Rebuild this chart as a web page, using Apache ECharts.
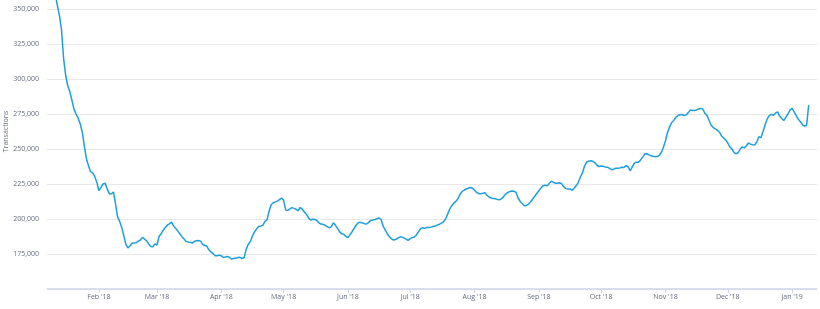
<!DOCTYPE html>
<html>
<head>
<meta charset="utf-8">
<script src="https://cdn.jsdelivr.net/npm/echarts@6/dist/echarts.min.js"></script>
<style>
html,body{margin:0;padding:0;background:#ffffff;overflow:hidden;width:820px;height:309px;}
#chart{width:820px;height:335px;margin-top:-26px;}
</style>
</head>
<body>
<div id="chart"></div>
<script>
// ---- axis range (categories are daily dates) ----
const axisStart = '2018-01-07';
const axisEnd = '2019-01-13';
const dataStart = '2018-01-11';
const monthNames = ['Jan','Feb','Mar','Apr','May','Jun','Jul','Aug','Sep','Oct','Nov','Dec'];
const yMin = 150000, yMax = 375000, yStep = 25000;
const yTitle = 'Transactions';

// ---- daily confirmed transactions (7-day average) ----
const jan18 = [361000,352500,345200,335100,314600,302500,295100,291000,284800,278500,275000,272000,268000,262000,252000,243000,238000,233800,233000,230400,226300];
const feb18 = [220200,222600,225000,225500,221500,218100,217800,219300,211000,201500,198300,194000,188000,181900,179300,180900,182700,182900,183100,184200,185000,186900,185700,184400,182200,180300,180200,182200];
const mar18 = [181400,187500,189500,192000,194000,195700,196500,197800,195000,193300,191500,189500,187400,185800,184000,183500,183300,182800,184000,184500,184600,184200,181800,181100,180700,178000,176500,175300,173800,173800,174200];
const apr18 = [173700,172500,172800,173300,172500,171400,171900,171900,172500,172600,171800,172500,178500,182000,184000,187900,190800,193000,194700,195000,195500,198300,199400,205500,210200,211600,212200,212800,213800,215000];
const may18 = [213500,206500,206200,207200,208100,207600,207000,205900,208200,207000,205000,203400,200800,199300,199800,199600,199000,197300,196400,196200,195500,194600,193700,194500,197300,195500,193300,190800,189400,189100,187500];
const jun18 = [186800,188800,190900,193400,195700,197400,197600,197200,196600,196400,197600,199000,199300,199700,200200,200700,199500,194800,192000,189300,187300,185800,185000,185300,186400,187100,187200,186500,185600,184700];
const jul18 = [186000,186700,187100,188600,191000,193000,193800,193300,194000,193900,194200,194700,195000,195600,196200,197000,198000,199800,203300,207000,209500,211300,212600,214500,217600,219600,220700,221400,222000,222500,222000];
const aug18 = [220600,219000,218100,218100,218400,218800,216900,215700,215000,214700,214400,214000,213700,214500,216000,217800,218900,219700,220000,219800,219000,215000,212500,210900,209400,209700,210600,212300,214300,216200,218200];
const sep18 = [220200,222200,223800,224100,223800,225300,227000,226200,225500,225600,225900,225100,223000,221700,221500,221500,220500,222000,223900,226200,230000,232900,237800,240700,241300,241600,241200,240100,238400,237500];
const oct18 = [237800,237600,237200,237000,236200,235200,235500,236300,236300,236500,237000,236800,238100,237300,234300,237200,239900,240600,240500,242200,244200,246400,246600,245800,245200,244800,244500,244600,245500,247500,251200];
const nov18 = [255900,262000,265800,268900,270400,272700,273900,274500,274600,273900,274500,276000,277900,277500,277500,277900,278600,279000,278400,275500,274000,270500,267000,265300,264300,263400,262000,259300,257900,256500];
const dec18 = [254300,251500,250000,247600,246600,247300,250000,251500,250800,252300,254300,253500,253000,252900,255000,258700,258100,262500,267300,271500,273900,274700,274100,275600,276500,273500,271800,270300,272800,275000,277800];
const jan19 = [279000,276500,273800,271200,269500,267300,266400,267000,281400];

// ---- build category list and series ----
function ymd(d){
  const m = String(d.getUTCMonth()+1).padStart(2,'0');
  const dd = String(d.getUTCDate()).padStart(2,'0');
  return d.getUTCFullYear() + '-' + m + '-' + dd;
}
function parse(s){ const p = s.split('-').map(Number); return new Date(Date.UTC(p[0], p[1]-1, p[2])); }
const categories = [];
for (let t = parse(axisStart).getTime(); t <= parse(axisEnd).getTime(); t += 86400000) {
  categories.push(ymd(new Date(t)));
}
const values = [].concat(jan18, feb18, mar18, apr18, may18, jun18, jul18, aug18, sep18, oct18, nov18, dec18, jan19);
const startIdx = categories.indexOf(dataStart);
const seriesData = categories.map((c, i) => {
  const k = i - startIdx;
  return (k >= 0 && k < values.length) ? values[k] : null;
});

function thousands(v){ return String(v).replace(/\B(?=(\d{3})+(?!\d))/g, ','); }
const isMonthStart = (idx, val) => val.slice(8) === '01';

const chart = echarts.init(document.getElementById('chart'), null, {renderer: 'canvas'});
chart.setOption({
  animation: false,
  backgroundColor: '#ffffff',
  textStyle: { fontFamily: 'Open Sans' },
  grid: { left: 47, right: 3, top: 0, bottom: 20, containLabel: false, outerBoundsMode: 'none' },
  xAxis: {
    type: 'category',
    data: categories,
    boundaryGap: false,
    axisLine: { show: true, lineStyle: { color: '#ccd6eb', width: 1.5 } },
    axisTick: { show: true, interval: isMonthStart, length: 4, lineStyle: { color: '#ccd6eb', width: 1 } },
    axisLabel: {
      interval: isMonthStart,
      margin: 4,
      color: '#666c7e',
      fontSize: 7,
      fontFamily: 'Open Sans',
      formatter: (val) => monthNames[Number(val.slice(5,7)) - 1] + " '" + val.slice(2,4)
    },
    splitLine: { show: false }
  },
  yAxis: {
    type: 'value',
    min: yMin,
    max: yMax,
    interval: yStep,
    name: yTitle,
    nameLocation: 'middle',
    nameGap: 38,
    nameRotate: 90,
    nameMoveOverlap: false,
    nameTextStyle: { color: '#666c7e', fontSize: 7, fontFamily: 'Open Sans' },
    axisLine: { show: false },
    axisTick: { show: false },
    axisLabel: {
      showMinLabel: false,
      margin: 8,
      color: '#666c7e',
      fontSize: 7,
      fontFamily: 'Open Sans',
      formatter: (v) => thousands(v)
    },
    splitLine: { show: true, lineStyle: { color: '#e8e8e8', width: 1 } }
  },
  series: [{
    type: 'line',
    data: seriesData,
    showSymbol: false,
    symbol: 'none',
    connectNulls: false,
    lineStyle: { color: '#1f9ed9', width: 1.5 },
    emphasis: { disabled: true }
  }]
});
</script>
</body>
</html>
